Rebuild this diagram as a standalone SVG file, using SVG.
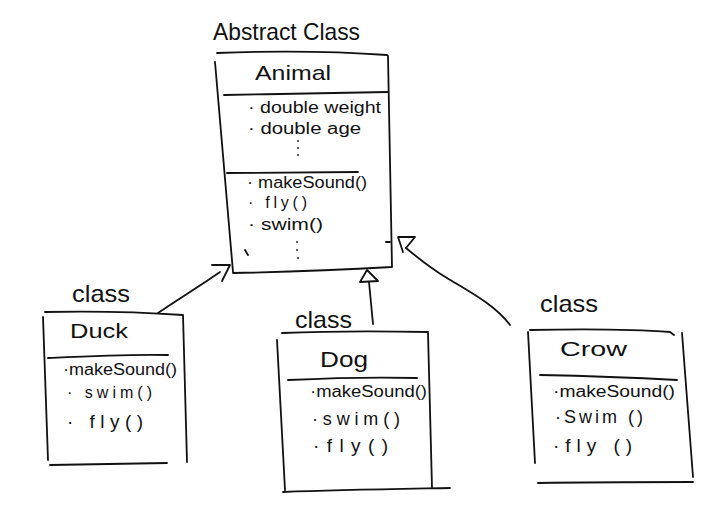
<svg xmlns="http://www.w3.org/2000/svg" width="720" height="515" viewBox="0 0 720 515">
<style>
.ln{fill:none;stroke:#111;stroke-width:1.8;stroke-linecap:round;stroke-linejoin:round}
.t{font-family:"Liberation Sans",Arial,sans-serif;fill:#111}
.lbl{font-size:24px}
.nm{font-size:21px}
.m{font-size:16px}
.f{font-size:19px}
.dot{fill:#111}
</style>
<rect width="720" height="515" fill="#fff"/>
<g id="connectors">
  <path class="ln" d="M158,313 C180,298 200,286 220,272"/>
  <path class="ln" d="M212,265 L230,265 L222,281"/>
  <path class="ln" d="M373,324 L369,282"/>
  <path class="ln" d="M360,282 L367,270 L378,281 Z"/>
  <path class="ln" d="M510,325 C495,305 470,292 447,278 C430,268 418,258 406,248"/>
  <path class="ln" d="M403,252 L398,237 L415,237 L406,248"/>
</g>
<g id="animal">
  <text class="t lbl" x="213" y="40" textLength="147" lengthAdjust="spacingAndGlyphs">Abstract Class</text>
  <path class="ln" d="M217,53 C270,51 330,51 387,55 M388,56 L392,267 M392,267 C340,270 285,272 233,273 M233,272 L215,62"/>
  <path class="ln" d="M224,95 C280,94 340,93 388,92"/>
  <path class="ln" d="M227,173 L358,172"/>
  <path class="ln" d="M386,242 L390,242 M245,250 L248,255"/>
  <text class="t nm" x="255" y="80" textLength="76" lengthAdjust="spacingAndGlyphs">Animal</text>
  <text class="t m" x="248" y="113" textLength="133" lengthAdjust="spacingAndGlyphs">· double weight</text>
  <text class="t m" x="248" y="134" textLength="113" lengthAdjust="spacingAndGlyphs">· double age</text>
  <circle class="dot" cx="298" cy="141" r="0.9"/>
  <circle class="dot" cx="298" cy="148" r="0.9"/>
  <circle class="dot" cx="298" cy="155" r="0.9"/>
  <text class="t m" x="247" y="188" textLength="120" lengthAdjust="spacingAndGlyphs">· makeSound()</text>
  <text class="t m" x="248" y="208" textLength="59" lengthAdjust="spacing">· fly()</text>
  <text class="t m" x="248" y="230" textLength="75" lengthAdjust="spacingAndGlyphs">· swim()</text>
  <circle class="dot" cx="297" cy="242" r="0.9"/>
  <circle class="dot" cx="297" cy="250" r="0.9"/>
  <circle class="dot" cx="298" cy="258" r="0.9"/>
</g>
<g id="duck">
  <text class="t lbl" x="72" y="302" textLength="58" lengthAdjust="spacingAndGlyphs">class</text>
  <path class="ln" d="M45,312 C90,311 140,312 183,315 M183,315 L187,462 M43,317 L48,460 M50,465 C90,464 130,464 167,463"/>
  <path class="ln" d="M48,358 C90,356 130,354 168,355"/>
  <text class="t nm" x="70" y="338" textLength="58" lengthAdjust="spacingAndGlyphs">Duck</text>
  <text class="t m" x="63" y="375" textLength="114" lengthAdjust="spacingAndGlyphs">·makeSound()</text>
  <text class="t m" x="67" y="398" textLength="85" lengthAdjust="spacing">· swim()</text>
  <text class="t f" x="67" y="428" textLength="76" lengthAdjust="spacing">· fly()</text>
</g>
<g id="dog">
  <text class="t lbl" x="295" y="328" textLength="57" lengthAdjust="spacingAndGlyphs">class</text>
  <path class="ln" d="M282,333 C330,331 380,331 428,332 M428,333 L432,488 M277,340 L285,490 M283,492 C340,490 400,489 450,488"/>
  <path class="ln" d="M288,380 C330,378 380,377 417,378"/>
  <text class="t nm" x="320" y="367" textLength="48" lengthAdjust="spacingAndGlyphs" style="font-size:22px">Dog</text>
  <text class="t m" x="310" y="397" textLength="117" lengthAdjust="spacingAndGlyphs">·makeSound()</text>
  <text class="t m" x="312" y="425" textLength="88" lengthAdjust="spacing" style="font-size:18px">·swim()</text>
  <text class="t f" x="313" y="452" textLength="75" lengthAdjust="spacing">·fly()</text>
</g>
<g id="crow">
  <text class="t lbl" x="540" y="312" textLength="58" lengthAdjust="spacingAndGlyphs">class</text>
  <path class="ln" d="M530,330 C580,329 630,329 670,332 L674,335 M682,333 L693,477 M528,332 L535,463 M538,483 C590,482 640,482 693,482"/>
  <path class="ln" d="M540,375 C590,376 640,378 677,380"/>
  <text class="t nm" x="560" y="356" textLength="67" lengthAdjust="spacingAndGlyphs">Crow</text>
  <text class="t m" x="553" y="397" textLength="122" lengthAdjust="spacingAndGlyphs">·makeSound()</text>
  <text class="t m" x="555" y="423" textLength="88" lengthAdjust="spacing" style="font-size:18px">·Swim ()</text>
  <text class="t f" x="553" y="452" textLength="79" lengthAdjust="spacing">·fly ()</text>
</g>
</svg>
